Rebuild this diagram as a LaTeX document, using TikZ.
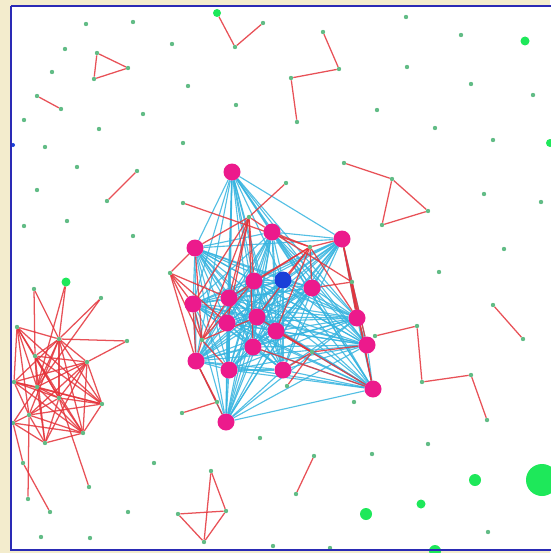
\documentclass[tikz,border=0pt]{standalone}
\definecolor{bgc}{HTML}{F3ECCD}
\definecolor{framec}{HTML}{2A2AB5}
\definecolor{dotg}{HTML}{62BC86}
\definecolor{bigg}{HTML}{1EE85A}
\definecolor{redl}{HTML}{E5333A}
\definecolor{cyanl}{HTML}{36B4E0}
\definecolor{mag}{HTML}{EC1A8C}
\definecolor{bluen}{HTML}{1A3FD8}
\pgfdeclarelayer{back}
\pgfdeclarelayer{cy}
\pgfdeclarelayer{rd}
\pgfdeclarelayer{front}
\pgfsetlayers{back,cy,rd,main,front}
\begin{document}
\begin{tikzpicture}[x=0.05cm,y=-0.05cm,
 sd/.style={circle,fill=dotg,inner sep=0,minimum size=0.22cm},
 bd/.style={circle,fill=bigg,inner sep=0,minimum size=#1*0.05cm},
 mn/.style={circle,fill=mag,inner sep=0,minimum size=0.85cm},
 bn/.style={circle,fill=bluen,inner sep=0,minimum size=0.85cm},
 re/.style={draw=redl,line width=1.8pt,opacity=0.85},
 ce/.style={draw=cyanl,line width=1.6pt,opacity=0.85},
]
\useasboundingbox (0,0) rectangle (550,553);
\begin{pgfonlayer}{back}
\fill[bgc] (0,0) rectangle (550,553);
\fill[white] (11,6) rectangle (560,550);
\end{pgfonlayer}
\begin{pgfonlayer}{front}
\draw[framec,line width=0.13cm] (11,6) -- (560,6);
\draw[framec,line width=0.13cm] (11,6) -- (11,550) -- (560,550);
\end{pgfonlayer}
% isolated small dots
\foreach \x/\y [count=\i] in {86/24,133/22,65/49,52/72,172/44,188/86,236/105,143/114,99/129,24/120,45/147,183/143,77/167,37/190,67/221,24/226,133/236,406/17,461/35,407/67,471/84,533/95,377/110,435/128,493/140,484/194,541/202,504/249,439/272,154/463,260/438,354/402,428/444,372/454,488/532,330/548,273/546,128/512,41/537,90/538}
  \node[sd] (s\i) at (\x,\y) {};
\node[circle,fill=bluen,inner sep=0,minimum size=0.2cm] (bl) at (13,145) {};
% big dots
\node[bd=8] (b1) at (217,13) {};
\node[bd=9] (b2) at (525,41) {};
\node[bd=9] (b3) at (66,282) {};
\node[bd=12] (b4) at (475,480) {};
\node[bd=9] (b5) at (421,504) {};
\node[bd=12] (b6) at (366,514) {};
\node[bd=32] (b7) at (542,480) {};
\node[bd=12] (b8) at (435,551) {};
\node[bd=8] (b9) at (550,143) {};
% connected small dots
\foreach \n/\x/\y in {t1/97/53,t2/128/68,t3/94/79,p1/37/96,p2/61/109,q1/107/201,q2/137/171,v2/235/47,v3/263/23,
 z1/323/32,z2/339/69,z3/291/78,z4/297/122,k1/344/163,k2/392/179,k3/428/211,k4/382/225,
 w1/375/336,w2/417/326,w3/422/382,w4/471/375,w5/487/420,n1/493/305,n2/523/339,o1/314/456,o2/296/494,
 f1/211/471,f2/226/511,f3/178/514,f4/204/542,
 L2/34/289,L3/101/298,L4/17/327,L5/59/339,L6/127/341,L7/35/356,L8/87/362,L9/14/382,L10/37/387,L11/59/398,
 L12/102/404,L13/29/415,L14/13/423,L15/83/433,L16/45/443,L17/23/463,L18/89/487,L19/28/499,L20/50/512,
 R1/249/217,R2/310/247,R3/170/273,R4/202/340,R5/352/282,R6/312/352,R7/183/203,R8/286/183,R9/287/386,R10/217/402,R11/182/413}
  \node[sd] (\n) at (\x,\y) {};
% cluster nodes
\foreach \x/\y [count=\i] in {232/172,195/248,272/232,342/239,254/281,312/288,193/304,229/298,257/317,227/323,357/318,276/331,367/345,253/347,196/361,229/370,283/370,373/389,226/422}
  \node[mn] (m\i) at (\x,\y) {};
\node[bn] (m20) at (283,280) {};
% cyan edges
\begin{pgfonlayer}{cy}
\foreach \i in {1,...,19}{
  \pgfmathtruncatemacro\k{\i+1}
  \foreach \j in {\k,...,20} \draw[ce] (m\i) -- (m\j);
}
\end{pgfonlayer}
% red edges
\begin{pgfonlayer}{rd}
\foreach \a/\b in {t1/t2,t2/t3,t3/t1,p1/p2,q1/q2,b1/v2,v2/v3,z1/z2,z2/z3,z3/z4,k1/k2,k2/k3,k3/k4,k4/k2,
 w1/w2,w2/w3,w3/w4,w4/w5,n1/n2,o1/o2,f1/f2,f1/f4,f3/f2,f3/f4,f2/f4,
 L5/b3,L5/L2,L5/L3,L5/L6,L5/L4,L5/L7,L5/L8,L5/L10,L5/L11,L5/L12,L5/L9,L5/L13,L5/L15,b3/L10,
 L4/L7,L4/L10,L4/L13,L4/L9,L8/L7,L8/L10,L8/L12,L8/L11,L8/L15,L8/L13,L8/L9,
 L7/L12,L7/L10,L7/L11,L7/L15,L10/L12,L10/L11,L10/L15,L10/L16,L10/L9,L10/L14,
 L11/L12,L11/L15,L11/L16,L11/L13,L12/L15,L12/L9,L12/L13,L13/L15,L13/L16,L13/L9,L13/L14,
 L16/L15,L14/L16,L9/L11,L11/L18,L14/L17,L17/L20,L13/L19,
 L3/L10,L4/L11,L4/L12,L7/L16,L8/L16,L9/L15,L6/L8,L14/L15,L2/L7,
 R7/R2,R8/R1,R1/m2,R1/m3,R1/m8,R1/m5,R1/m10,R1/m7,R1/R4,R1/m14,
 R2/m3,R2/m4,R2/m5,R2/m20,R2/m6,R2/m8,R2/m11,R2/m9,R2/m12,
 R3/m2,R3/m7,R3/m15,R3/m8,R3/R4,R3/m10,
 R4/m15,R4/m7,R4/m8,R4/m2,R4/m5,R4/m16,R4/m9,
 R5/m4,R5/m11,R5/m6,R5/m13,R5/m18,R5/m3,
 R6/m17,R6/m12,R6/m13,R6/R9,R6/m9,
 m4/m18,m4/m11,m15/m19,m7/m15,R10/R11,R10/m15,m12/m18,m14/m18}
  \draw[re] (\a) -- (\b);
\end{pgfonlayer}
\end{tikzpicture}
\end{document}
